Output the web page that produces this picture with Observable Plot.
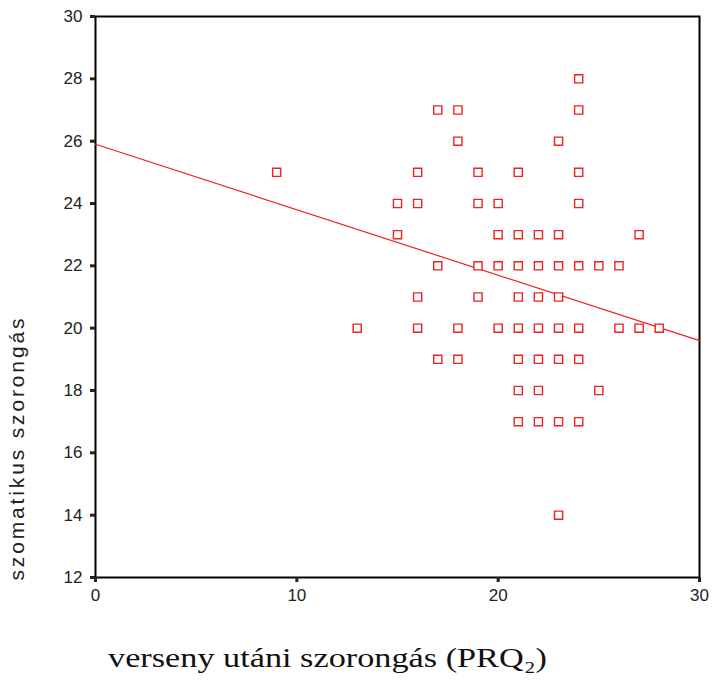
<!DOCTYPE html>
<html>
<head>
<meta charset="utf-8">
<script src="https://cdn.jsdelivr.net/npm/d3@7"></script>
<script src="https://cdn.jsdelivr.net/npm/@observablehq/plot@0.6"></script>
<style>
  html, body { margin: 0; padding: 0; background: #fff; }
</style>
</head>
<body>
<div id="chart"></div>
<script>
// x values (verseny utáni szorongás) and y values (szomatikus szorongás)
const xValues = [
  24,
  17, 18, 24,
  18, 23,
  9, 16, 19, 21, 24,
  15, 16, 19, 20, 24,
  15, 20, 21, 22, 23, 27,
  17, 19, 20, 21, 22, 23, 24, 25, 26,
  16, 19, 21, 22, 23,
  13, 16, 18, 20, 21, 22, 23, 24, 26, 27, 28,
  17, 18, 21, 22, 23, 24,
  21, 22, 25,
  21, 22, 23, 24,
  23
];
const yValues = [
  28,
  27, 27, 27,
  26, 26,
  25, 25, 25, 25, 25,
  24, 24, 24, 24, 24,
  23, 23, 23, 23, 23, 23,
  22, 22, 22, 22, 22, 22, 22, 22, 22,
  21, 21, 21, 21, 21,
  20, 20, 20, 20, 20, 20, 20, 20, 20, 20, 20,
  19, 19, 19, 19, 19, 19,
  18, 18, 18,
  17, 17, 17, 17,
  14
];
// regression line endpoints
const fitX = [0, 30];
const fitY = [25.9, 19.6];

const xTicks = [0, 10, 20, 30];
const yTicks = [12, 14, 16, 18, 20, 22, 24, 26, 28, 30];
const xLabel = "verseny utáni szorongás (PRQ₂)";
const yLabel = "szomatikus szorongás";

const points = xValues.map((x, i) => ({x, y: yValues[i]}));
const fit = fitX.map((x, i) => ({x, y: fitY[i]}));

const red = "#f02020";

const chart = Plot.plot({
  width: 713,
  height: 681,
  marginLeft: 95,
  marginRight: 14,
  marginTop: 16,
  marginBottom: 104,
  x: {domain: [0, 30]},
  y: {domain: [12, 30]},
  style: {fontFamily: "'Liberation Sans', Arial, sans-serif", fontSize: "17px", color: "#222", background: "#fff"},
  marks: [
    Plot.frame({stroke: "#000", strokeWidth: 2}),
    Plot.axisX({ticks: xTicks, tickSize: 5, strokeWidth: 3, tickPadding: 6, label: null, fontSize: 17}),
    Plot.axisY({ticks: yTicks, tickSize: 5, strokeWidth: 3, tickPadding: 8, label: null, fontSize: 17}),
    Plot.line(fit, {x: "x", y: "y", stroke: red, strokeWidth: 1.2}),
    Plot.dot(points, {x: "x", y: "y", symbol: "square", r: 4.6, stroke: red, strokeWidth: 1.4, fill: "#fff"}),
    Plot.text([xLabel], {frameAnchor: "bottom", dx: -70, dy: 89, fontFamily: "'Liberation Serif', 'Times New Roman', serif", fontSize: 28, fill: "#111"}),
    Plot.text([yLabel], {frameAnchor: "bottom-left", rotate: -90, textAnchor: "start", dx: -72, dy: 3, fontSize: 21, fill: "#222"})
  ]
});

// stretch the two axis titles to the reference's text extents
chart.querySelectorAll("text").forEach(t => {
  if (t.textContent === xLabel) { t.setAttribute("textLength", 439); t.setAttribute("lengthAdjust", "spacingAndGlyphs"); }
  if (t.textContent === yLabel) { t.setAttribute("textLength", 262); t.setAttribute("lengthAdjust", "spacing"); }
});

document.getElementById("chart").appendChild(chart);
</script>
</body>
</html>
